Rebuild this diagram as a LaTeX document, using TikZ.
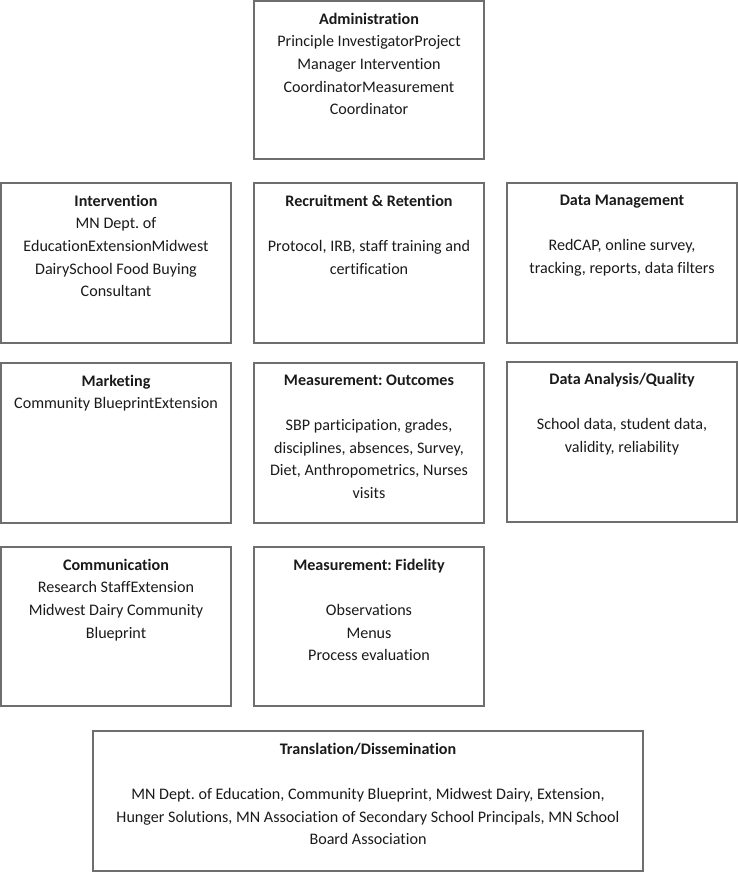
\documentclass[tikz,border=0pt]{standalone}
\usepackage{fontspec}
\setmainfont{Carlito}[Ligatures=NoCommon]
\usepackage{tikz}
\usepackage{xcolor}
\usetikzlibrary{positioning}
\definecolor{cFrame}{HTML}{6E6E6E}
\definecolor{cInk}  {HTML}{1A1A1A}
\frenchspacing

\begin{document}
\begin{tikzpicture}[x=1pt, y=1pt,
    box/.style={draw=cFrame, line width=2.4pt, minimum width=230pt,
                minimum height=160pt, inner sep=0pt},
    boxtext/.style={align=center, text=cInk, inner sep=0pt,
                    font=\fontsize{16.1}{22.6}\selectfont}]
  \useasboundingbox (0,0) rectangle (738,-872);
  % frames: top, three rows of three, wide bottom one
  \node[box, minimum height=158pt] (admin)   at (369,-80)  {};
  \node[box] (interv)  at (116,-263) {};
  \node[box] (recruit) at (369,-263) {};
  \node[box] (datamgt) at (622,-263) {};
  \node[box] (market)  at (116,-443) {};
  \node[box] (outcome) at (369,-443) {};
  \node[box] (analysis) at (622,-442) {};
  \node[box, minimum height=159pt] (commun)  at (116,-626.5) {};
  \node[box, minimum height=159pt] (fidel)   at (369,-626.5) {};
  \node[box, minimum width=550pt, minimum height=140pt] (transl) at (368,-801) {};
  % texts, hung from the top edge of each frame
  \node[boxtext, below=13pt of admin.north] (admintxt)
       {\textbf{Administration}\\Principle InvestigatorProject\\Manager Intervention\\CoordinatorMeasurement\\Coordinator};
  \node[boxtext, below=13pt of interv.north] (intervtxt)
       {\textbf{Intervention}\\MN Dept. of\\EducationExtensionMidwest\\DairySchool Food Buying\\Consultant};
  \node[boxtext, below=13pt of recruit.north] (recruittxt)
       {\textbf{Recruitment \& Retention}\\[22.6pt]Protocol, IRB, staff training and\\certification};
  \node[boxtext, below=13pt of datamgt.north] (datamgttxt)
       {\textbf{Data Management}\\[22.6pt]RedCAP, online survey,\\tracking, reports, data filters};
  \node[boxtext, below=13pt of market.north] (markettxt)
       {\textbf{Marketing}\\Community BlueprintExtension};
  \node[boxtext, below=13pt of outcome.north] (outcometxt)
       {\textbf{Measurement: Outcomes}\\[22.6pt]SBP participation, grades,\\disciplines, absences, Survey,\\Diet, Anthropometrics, Nurses\\visits};
  \node[boxtext, below=12pt of analysis.north] (analysistxt)
       {\textbf{Data Analysis/Quality}\\[22.6pt]School data, student data,\\validity, reliability};
  \node[boxtext, below=13pt of commun.north] (communtxt)
       {\textbf{Communication}\\Research StaffExtension\\Midwest Dairy Community\\Blueprint};
  \node[boxtext, below=13pt of fidel.north] (fideltxt)
       {\textbf{Measurement: Fidelity}\\[22.6pt]Observations\\Menus\\Process evaluation};
  \node[boxtext, below=13pt of transl.north] (transltxt)
       {\textbf{Translation/Dissemination}\\[22.6pt]MN Dept. of Education, Community Blueprint, Midwest Dairy, Extension,\\Hunger Solutions, MN Association of Secondary School Principals, MN School\\Board Association};
\end{tikzpicture}
\end{document}
